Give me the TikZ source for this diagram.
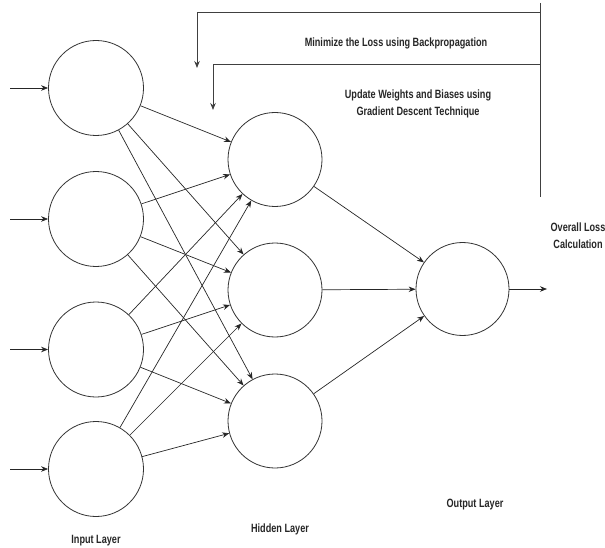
\documentclass[tikz,border=0pt]{standalone}
\usepackage{fontspec}
\setmainfont[FakeStretch=0.76]{Liberation Sans}
\usetikzlibrary{arrows.meta}
\tikzset{
  neuron/.style={circle, draw=black!80, line width=0.8pt, inner sep=0pt},
  inneuron/.style={neuron, minimum size=95pt},
  hidneuron/.style={neuron, minimum size=94pt},
  outneuron/.style={neuron, minimum size=93pt},
  conn/.style={draw=black!85, line width=0.7pt, -{Stealth[length=7pt,width=5.5pt]}},
  fb/.style={draw=black!75, line width=0.8pt},
  lbl/.style={font=\fontsize{12}{17}\selectfont\bfseries, align=center, inner sep=0pt, text=black!85}
}
\begin{document}
\begin{tikzpicture}[x=1pt,y=-1pt]
\useasboundingbox (0,0) rectangle (605,548);
% input layer
\node[inneuron] (i1) at (96,88) {};
\node[inneuron] (i2) at (96,219) {};
\node[inneuron] (i3) at (96,349.5) {};
\node[inneuron] (i4) at (96,469) {};
% hidden layer
\node[hidneuron] (h1) at (275,159.5) {};
\node[hidneuron] (h2) at (275,290) {};
\node[hidneuron] (h3) at (275,421) {};
% output
\node[outneuron] (o1) at (462.5,289) {};
% input arrows
\foreach \k/\y in {1/88,2/219,3/349.5,4/469}{
  \coordinate (s\k) at (10,\y);
  \draw[conn] (s\k) -- (i\k);
}
% input to hidden
\foreach \a in {1,2,3,4}{
  \foreach \b in {1,2,3}{
    \draw[conn] (i\a) -- (h\b);
  }
}
% hidden to output
\foreach \b in {1,2,3}{
  \draw[conn] (h\b) -- (o1);
}
\coordinate (oend) at (547,289);
\draw[conn] (o1) -- (oend);
% feedback lines
\coordinate (vtop) at (540,3);
\coordinate (vbot) at (540,197);
\coordinate (c1) at (540,12);
\coordinate (c1l) at (197,12);
\coordinate (c1e) at (197,68);
\coordinate (c2) at (540,64);
\coordinate (c2l) at (213,64);
\coordinate (c2e) at (213,110);
\draw[fb] (vtop) -- (vbot);
\draw[fb, -{Stealth[length=7pt,width=5.5pt]}] (c1) -- (c1l) -- (c1e);
\draw[fb, -{Stealth[length=7pt,width=5.5pt]}] (c2) -- (c2l) -- (c2e);
% texts
\node[lbl] (t1) at (396,43) {Minimize the Loss using Backpropagation};
\node[lbl] (t2) at (418,104) {Update Weights and Biases using\\Gradient Descent Technique};
\node[lbl] (t3) at (578,236) {Overall Loss\\Calculation};
\node[lbl] (t4) at (96,541) {Input Layer};
\node[lbl] (t5) at (280,529) {Hidden Layer};
\node[lbl] (t6) at (475,505) {Output Layer};
\end{tikzpicture}
\end{document}
